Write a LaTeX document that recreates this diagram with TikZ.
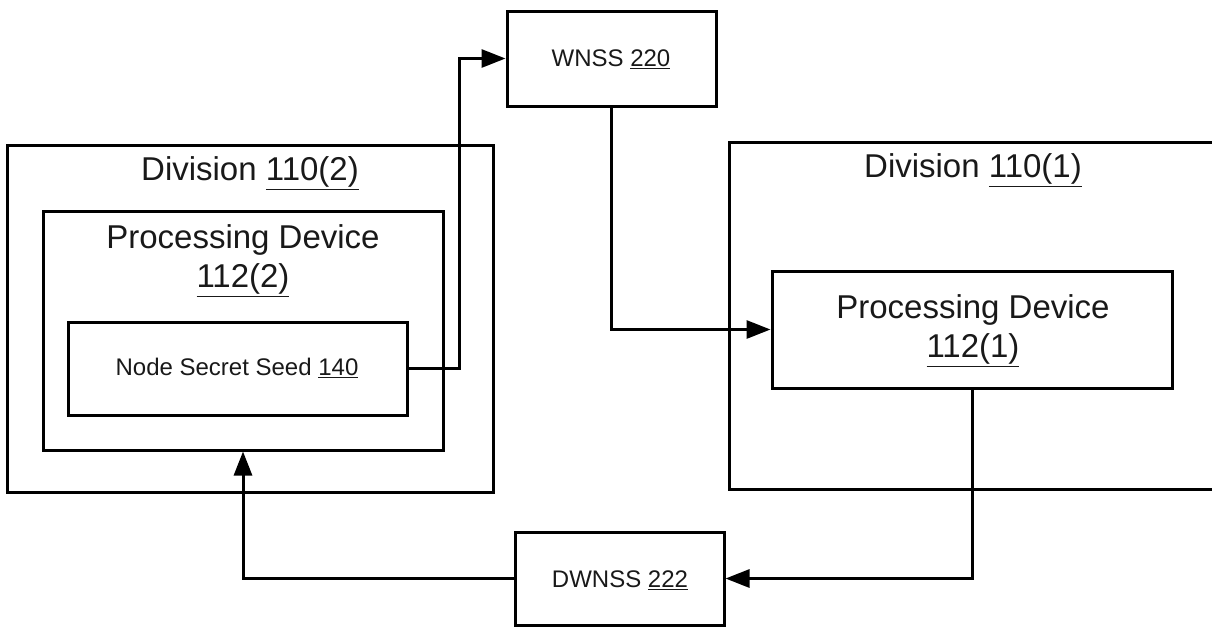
\documentclass[tikz,border=0pt]{standalone}
\usepackage{fontspec}
\setmainfont{Liberation Sans}
\usetikzlibrary{arrows.meta}
\begin{document}
\begin{tikzpicture}[x=1pt,y=-1pt,
  box/.style={draw=black,line width=3pt,rectangle,inner sep=0pt,fill=none},
  bigtxt/.style={font=\fontsize{33}{40}\selectfont,inner sep=0pt,align=center,text=black!90},
  smalltxt/.style={font=\fontsize{24}{28}\selectfont,inner sep=0pt,align=center,text=black!90},
  arr/.style={line width=3pt,-{Triangle[length=24pt,width=18pt]}}]
\useasboundingbox (0,0) rectangle (1212,627);
% boxes
\node[box,minimum width=486pt,minimum height=347pt] (div2) at (250,318.5) {};
\node[box,minimum width=400pt,minimum height=239pt] (pd2) at (243,330.5) {};
\node[box,minimum width=339pt,minimum height=93pt] (nss) at (237.5,368.5) {};
\node[box,minimum width=484pt,minimum height=347pt] (div1) at (971,315.5) {};
\node[box,minimum width=400pt,minimum height=117pt] (pd1) at (972,329.5) {};
\node[box,minimum width=209pt,minimum height=95pt] (wnss) at (611.5,58.5) {};
\node[box,minimum width=209pt,minimum height=93pt] (dwnss) at (619.5,578.5) {};
% texts
\node[bigtxt] (t-div2) at (250,173) {Division \underline{110(2)}};
\node[bigtxt] (t-pd2a) at (243,240) {Processing Device};
\node[bigtxt] (t-pd2b) at (243,280) {\underline{112(2)}};
\node[smalltxt] (t-nss) at (237,368) {Node Secret Seed \underline{140}};
\node[bigtxt] (t-div1) at (973,170) {Division \underline{110(1)}};
\node[bigtxt] (t-pd1a) at (973,310) {Processing Device};
\node[bigtxt] (t-pd1b) at (973,350) {\underline{112(1)}};
\node[smalltxt] (t-wnss) at (611,59) {WNSS \underline{220}};
\node[smalltxt] (t-dwnss) at (620,580) {DWNSS \underline{222}};
% connectors
\coordinate (j1) at (459,368.5);
\draw[arr] (nss.east) -- (j1) |- (wnss.west);
\draw[arr] (wnss.south) |- (pd1.west);
\draw[arr] (pd1.south) |- (dwnss.east);
\draw[arr] (dwnss.west) -| (pd2.south);
\end{tikzpicture}
\end{document}
